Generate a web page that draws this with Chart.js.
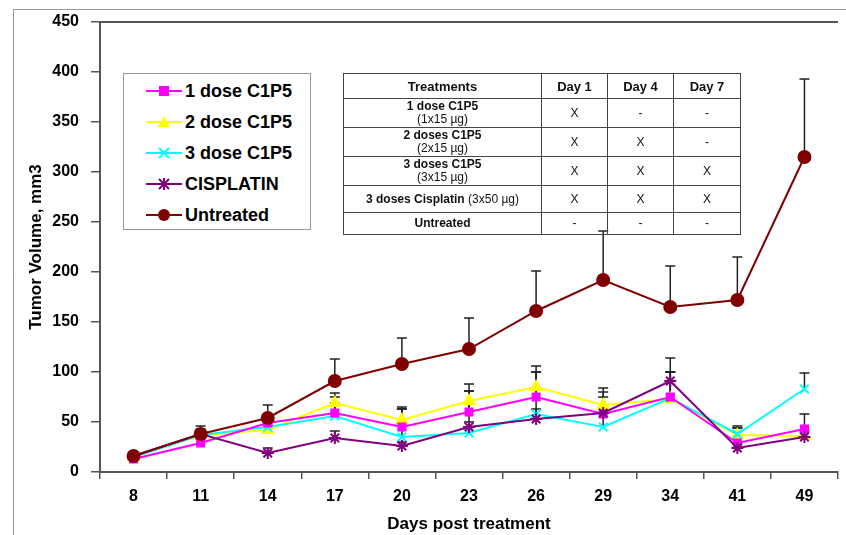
<!DOCTYPE html>
<html>
<head>
<meta charset="utf-8">
<script src="https://cdn.jsdelivr.net/npm/chart.js@4.4.1/dist/chart.umd.min.js"></script>
<style>
  body { margin: 0; background: #fff; overflow: hidden; font-family: "Liberation Sans", Arial, sans-serif; }
  #wrap { position: relative; width: 846px; height: 535px; }
  #legend { position: absolute; left: 123px; top: 73px; width: 186px; height: 155px; border: 1px solid #999; background: #fff; }
  .item { position: absolute; left: 22px; height: 24px; display: flex; align-items: center; font-weight: bold; font-size: 18px; color: #000; white-space: nowrap; }
  .item svg { margin-right: 3px; }
  #treat { position: absolute; left: 343px; top: 73px; border-collapse: collapse; font-size: 12px; color: #111; }
  #treat td, #treat th { border: 1px solid #444; text-align: center; padding: 0; line-height: 13px; }
  #treat td { background: #fff; }
  #treat tr:last-child td { background: transparent; }
  #treat th { font-size: 13px; height: 24px; background: #fff; }
  .sub { font-weight: normal; }
</style>
</head>
<body>
<div id="wrap">
  <canvas id="myChart" width="846" height="535"></canvas>
  <div id="legend"></div>
  <table id="treat">
    <tr><th style="width:197px">Treatments</th><th style="width:65px">Day 1</th><th style="width:65px">Day 4</th><th style="width:66px">Day 7</th></tr>
    <tr style="height:29px"><td><b>1 dose C1P5</b><br><span class="sub">(1x15 µg)</span></td><td>X</td><td>-</td><td>-</td></tr>
    <tr style="height:29px"><td><b>2 doses C1P5</b><br><span class="sub">(2x15 µg)</span></td><td>X</td><td>X</td><td>-</td></tr>
    <tr style="height:29px"><td><b>3 doses C1P5</b><br><span class="sub">(3x15 µg)</span></td><td>X</td><td>X</td><td>X</td></tr>
    <tr style="height:27px"><td><b>3 doses Cisplatin</b> <span class="sub">(3x50 µg)</span></td><td>X</td><td>X</td><td>X</td></tr>
    <tr style="height:22px"><td><b>Untreated</b></td><td>-</td><td>-</td><td>-</td></tr>
  </table>
</div>
<script>
const days = ["8", "11", "14", "17", "20", "23", "26", "29", "34", "41", "49"];

const oneDose = [13, 29, 49, 59, 45, 60, 75, 58, 75, 29, 43];
const twoDose = [15, 37, 42, 69, 52, 71, 85, 67, 73, 37, 36];
const threeDose = [15, 37, 45, 56, 35, 39, 58, 45, 74, 38, 83];
const cisplatin = [16, 38, 19, 34, 26, 45, 53, 59, 91, 24, 35];
const untreated = [16, 38, 54, 91, 108, 123, 161, 192, 165, 172, 315];

// upper error bars only
const oneDoseErr = [2, 4, 5, 10, 18, 21, 25, 17, 25, 15, 15];
const twoDoseErr = [2, 4, 5, 10, 13, 17, 21, 17, 27, 9, 6];
const threeDoseErr = [2, 4, 6, 19, 28, 42, 42, 35, 26, 6, 16];
const cisplatinErr = [2, 5, 5, 7, 4, 5, 10, 5, 23, 4, 5];
const untreatedErr = [3, 8, 13, 22, 26, 31, 40, 49, 41, 43, 78];

const yTicks = [0, 50, 100, 150, 200, 250, 300, 350, 400, 450];

function makeSet(label, data, errors, color, style, radius, order) {
  return {
    label: label,
    data: data,
    errors: errors,
    borderColor: color,
    backgroundColor: color,
    pointStyle: style,
    pointRadius: radius,
    pointHoverRadius: radius,
    pointBorderWidth: 2,
    borderWidth: 2,
    tension: 0,
    order: order,
  };
}

const datasets = [
  makeSet("1 dose C1P5", oneDose, oneDoseErr, "#ff00ff", "rect", 5, 2),
  makeSet("2 dose C1P5", twoDose, twoDoseErr, "#ffff00", "triangle", 6, 4),
  makeSet("3 dose C1P5", threeDose, threeDoseErr, "#00ffff", "crossRot", 6, 3),
  makeSet("CISPLATIN", cisplatin, cisplatinErr, "#800080", "star", 6, 1),
  makeSet("Untreated", untreated, untreatedErr, "#800000", "circle", 6, 0),
];

const errorBars = {
  id: "errorBars",
  beforeDatasetsDraw(chart) {
    const ctx = chart.ctx;
    const y = chart.scales.y;
    ctx.save();
    ctx.strokeStyle = "#222";
    ctx.lineWidth = 1.5;
    chart.data.datasets.forEach((ds, d) => {
      let meta = chart.getDatasetMeta(d);
      meta.data.forEach((pt, i) => {
        let top = y.getPixelForValue(ds.data[i] + ds.errors[i]);
        ctx.beginPath();
        ctx.moveTo(pt.x, pt.y);
        ctx.lineTo(pt.x, top);
        ctx.moveTo(pt.x - 5, top);
        ctx.lineTo(pt.x + 5, top);
        ctx.stroke();
      });
    });
    ctx.restore();
  },
};

const frame = {
  id: "frame",
  beforeDraw(chart) {
    const ctx = chart.ctx;
    const a = chart.chartArea;
    ctx.save();
    ctx.strokeStyle = "#999";
    ctx.lineWidth = 1;
    ctx.beginPath();
    ctx.moveTo(13.5, 535);
    ctx.lineTo(13.5, 9.5);
    ctx.lineTo(846, 9.5);
    ctx.stroke();
    ctx.strokeStyle = "#555";
    ctx.lineWidth = 2;
    ctx.beginPath();
    ctx.moveTo(a.left, a.top);
    ctx.lineTo(a.right, a.top);
    ctx.stroke();
    ctx.restore();
  },
};

function renderLegend() {
  let box = document.getElementById("legend");
  const shapes = {
    rect: (c) => `<rect x="13" y="5" width="10" height="10" fill="${c}"/>`,
    triangle: (c) => `<polygon points="18,4 24,15 12,15" fill="${c}"/>`,
    crossRot: (c) => `<path d="M13 5 L23 15 M23 5 L13 15" stroke="${c}" stroke-width="2"/>`,
    star: (c) => `<path d="M13 5 L23 15 M23 5 L13 15 M18 4 L18 16 M12 10 L24 10" stroke="${c}" stroke-width="2"/>`,
    circle: (c) => `<circle cx="18" cy="10" r="6" fill="${c}"/>`,
  };
  for (let i = 0; i < datasets.length; i++) {
    let ds = datasets[i];
    let top = 5 + i * 31;
    box.innerHTML += `<div class="item" style="top:${top}px">
      <svg width="36" height="20"><line x1="0" y1="10" x2="36" y2="10" stroke="${ds.borderColor}" stroke-width="2"/>${shapes[ds.pointStyle](ds.borderColor)}</svg>${ds.label}</div>`;
  }
}

new Chart(document.getElementById("myChart"), {
  type: "line",
  data: { labels: days, datasets: datasets },
  plugins: [frame, errorBars],
  options: {
    responsive: false,
    animation: false,
    layout: { padding: { top: 22, left: 13, right: 0, bottom: 0 } },
    plugins: { legend: { display: false }, tooltip: { enabled: false } },
    scales: {
      x: {
        offset: true,
        afterFit: (s) => { s.height = 63; },
        grid: { offset: true, drawOnChartArea: false, tickLength: 7, color: "#555", lineWidth: 1.5 },
        border: { color: "#555", width: 2 },
        ticks: { color: "#000", font: { family: "Liberation Sans", size: 16, weight: "bold" }, padding: 8 },
        title: { display: true, text: "Days post treatment", color: "#000", font: { family: "Liberation Sans", size: 17, weight: "bold" }, padding: { top: 2, bottom: 0 } },
      },
      y: {
        min: 0,
        max: 450,
        afterFit: (s) => { s.width = 87; },
        afterBuildTicks: (s) => { s.ticks = yTicks.map((v) => ({ value: v })); },
        grid: { drawOnChartArea: false, tickLength: 9, color: "#555", lineWidth: 1.5 },
        border: { color: "#555", width: 2 },
        ticks: { color: "#000", font: { family: "Liberation Sans", size: 16, weight: "bold" }, padding: 12 },
        title: { display: true, text: "Tumor Volume, mm3", color: "#000", font: { family: "Liberation Sans", size: 17, weight: "bold" }, padding: { top: 13, bottom: 0 } },
      },
    },
  },
});

renderLegend();
</script>
</body>
</html>
